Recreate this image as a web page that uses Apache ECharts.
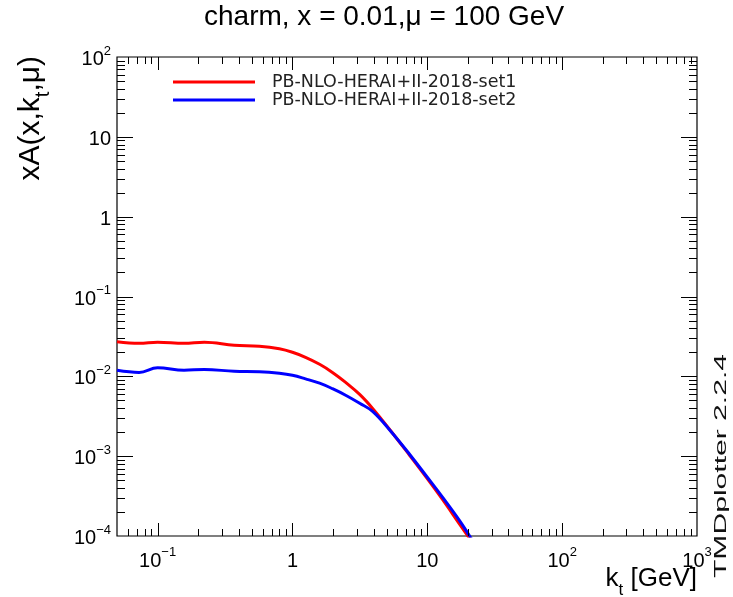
<!DOCTYPE html>
<html>
<head>
<meta charset="utf-8">
<script src="https://cdn.jsdelivr.net/npm/echarts@6/dist/echarts.min.js"></script>
<style>
  html, body { margin: 0; padding: 0; background: #ffffff; }
  #chart { width: 733px; height: 597px; }
</style>
</head>
<body>
<div id="chart"></div>
<script>
// Transverse momentum grid (GeV)
const kt = [0.05, 0.073, 0.1, 0.157, 0.222, 0.37, 0.568, 0.8, 1.0, 1.25, 1.59, 1.98, 2.48, 3.15, 3.93, 5.26, 7.41, 9.9, 13.0, 17.4, 20.7, 24];

// Charm TMD xA(x, kt, mu) at x = 0.01, mu = 100 GeV
const set1 = [0.0271, 0.0259, 0.0267, 0.0259, 0.0267, 0.0245, 0.0238, 0.0221, 0.0200, 0.0173, 0.01415, 0.0112, 0.0084, 0.00594, 0.00397, 0.00216, 0.00102, 0.000535, 0.000285, 0.000140, 0.000092, 0.000065];
const set2 = [0.0119, 0.0112, 0.0128, 0.0119, 0.0122, 0.01156, 0.0114, 0.0109, 0.0103, 0.0093, 0.0082, 0.0070, 0.0058, 0.0046, 0.00364, 0.00213, 0.00105, 0.000556, 0.000305, 0.000155, 0.0000985, 0.000067];

const seriesNames = ['PB-NLO-HERAI+II-2018-set1', 'PB-NLO-HERAI+II-2018-set2'];
const seriesColors = ['#ff0000', '#0000ff'];

// Axis ranges and decade labels ("^" marks an exponent)
const xRange = [0.05, 1000];
const yRange = [1e-4, 100];
const xTickValues = [0.1, 1, 10, 100, 1000];
const xTickLabels = ['10^\u22121', '1', '10', '10^2', '10^3'];
const yTickValues = [1e-4, 1e-3, 1e-2, 1e-1, 1, 10, 100];
const yTickLabels = ['10^\u22124', '10^\u22123', '10^\u22122', '10^\u22121', '1', '10', '10^2'];

const FONT = '"Liberation Sans", Arial, Helvetica, sans-serif';
const WIDE_FONT = '"DejaVu Sans", "Liberation Sans", sans-serif';

function richLabel(s) {
  const parts = s.split('^');
  return parts.length > 1 ? '{base|' + parts[0] + '}{sup|' + parts[1] + '}' : '{base|' + s + '}';
}
function labelFor(values, labels) {
  return function (v) {
    for (let i = 0; i < values.length; i++) {
      if (Math.abs(Math.log10(v) - Math.log10(values[i])) < 1e-6) return richLabel(labels[i]);
    }
    return '';
  };
}
const labelRich = {
  base: { fontSize: 20, fontFamily: FONT, color: '#000', verticalAlign: 'bottom', padding: [5, 0, 0, 0] },
  sup: { fontSize: 13, fontFamily: FONT, color: '#000', verticalAlign: 'top' }
};

// Major (1x) and minor (2x..9x) log tick positions inside a range
function logTicks(range) {
  const out = [];
  const e0 = Math.floor(Math.log10(range[0]));
  const e1 = Math.ceil(Math.log10(range[1]));
  for (let e = e0; e <= e1; e++) {
    for (let m = 1; m <= 9; m++) {
      const v = m * Math.pow(10, e);
      if (v > range[0] * 1.0001 && v < range[1] * 0.9999) out.push([v, m === 1 ? 1 : 0]);
    }
  }
  return out;
}
const xTicks = logTicks(xRange);
const yTicks = logTicks(yRange);

const tickStyle = { stroke: '#000', lineWidth: 1 };

const chart = echarts.init(document.getElementById('chart'), null, { renderer: 'canvas' });

chart.setOption({
  animation: false,
  backgroundColor: '#ffffff',
  title: {
    text: 'charm, x = 0.01,\u03bc = 100 GeV',
    left: 204, top: 3, padding: 0,
    textStyle: { fontFamily: FONT, fontSize: 28, fontWeight: 'normal', color: '#000' }
  },
  legend: {
    data: seriesNames,
    orient: 'vertical',
    left: 173, top: 73, padding: 0,
    itemGap: 0,
    icon: 'rect',
    itemWidth: 82, itemHeight: 3,
    textStyle: { fontFamily: WIDE_FONT, fontSize: 17.5, color: '#222', lineHeight: 18, padding: [0, 0, 0, 12] }
  },
  grid: {
    left: 117, right: 36, top: 57, bottom: 61,
    show: true, borderColor: '#000', borderWidth: 1.2, backgroundColor: 'transparent'
  },
  xAxis: {
    type: 'log', logBase: 10, min: xRange[0], max: xRange[1],
    axisLine: { show: false }, axisTick: { show: false }, splitLine: { show: false },
    axisLabel: { margin: 10, showMinLabel: true, showMaxLabel: true, hideOverlap: false,
                 formatter: labelFor(xTickValues, xTickLabels), rich: labelRich }
  },
  yAxis: {
    type: 'log', logBase: 10, min: yRange[0], max: yRange[1],
    axisLine: { show: false }, axisTick: { show: false }, splitLine: { show: false },
    axisLabel: { margin: 6, showMinLabel: true, showMaxLabel: true, hideOverlap: false,
                 formatter: labelFor(yTickValues, yTickLabels), rich: labelRich }
  },
  graphic: [
    {
      type: 'text', x: 31, y: 56, rotation: Math.PI / 2,
      style: {
        text: '{m|xA(x,k}{s|t}{m|,\u03bc)}',
        align: 'right', verticalAlign: 'middle',
        rich: {
          m: { fontFamily: FONT, fontSize: 30, fill: '#000', verticalAlign: 'bottom' },
          s: { fontFamily: FONT, fontSize: 20, fill: '#000', verticalAlign: 'bottom', padding: [0, 0, -7, 0] }
        }
      }
    },
    {
      type: 'text', x: 697, y: 579,
      style: {
        text: '{m|k}{s|t}{m| [GeV]}',
        align: 'right', verticalAlign: 'middle',
        rich: {
          m: { fontFamily: FONT, fontSize: 26, fill: '#000', verticalAlign: 'bottom' },
          s: { fontFamily: FONT, fontSize: 17, fill: '#000', verticalAlign: 'bottom', padding: [0, 0, -7, 0] }
        }
      }
    },
    {
      type: 'text', x: 722, y: 578, rotation: Math.PI / 2, scaleX: 1.88,
      style: {
        text: 'TMDplotter 2.2.4',
        align: 'left', verticalAlign: 'middle',
        fontFamily: FONT, fontSize: 16, fill: '#111'
      }
    }
  ],
  series: [
    {
      name: seriesNames[0], type: 'line', showSymbol: false, symbol: 'none', smooth: 0.4,
      data: kt.map((k, i) => [k, set1[i]]),
      lineStyle: { color: seriesColors[0], width: 3 }, itemStyle: { color: seriesColors[0] },
      z: 3
    },
    {
      name: seriesNames[1], type: 'line', showSymbol: false, symbol: 'none', smooth: 0.4,
      data: kt.map((k, i) => [k, set2[i]]),
      lineStyle: { color: seriesColors[1], width: 3 }, itemStyle: { color: seriesColors[1] },
      z: 4
    },
    {
      // ticks on bottom and top edges
      type: 'custom', silent: true, clip: false, z: 6,
      data: xTicks.map(t => [t[0], yRange[0], t[1]]),
      encode: { x: 0, y: 1 },
      renderItem: function (params, api) {
        const cs = params.coordSys;
        const p = api.coord([api.value(0), api.value(1)]);
        const x = Math.round(p[0]) + 0.5;
        const len = api.value(2) ? 13 : 7;
        const bottom = cs.y + cs.height;
        return {
          type: 'group', children: [
            { type: 'line', shape: { x1: x, y1: bottom, x2: x, y2: bottom - len }, style: tickStyle },
            { type: 'line', shape: { x1: x, y1: cs.y, x2: x, y2: cs.y + len }, style: tickStyle }
          ]
        };
      }
    },
    {
      // ticks on left and right edges
      type: 'custom', silent: true, clip: false, z: 6,
      data: yTicks.map(t => [xRange[0], t[0], t[1]]),
      encode: { x: 0, y: 1 },
      renderItem: function (params, api) {
        const cs = params.coordSys;
        const p = api.coord([api.value(0), api.value(1)]);
        const y = Math.round(p[1]) + 0.5;
        const len = api.value(2) ? 16 : 8;
        const right = cs.x + cs.width;
        return {
          type: 'group', children: [
            { type: 'line', shape: { x1: cs.x, y1: y, x2: cs.x + len, y2: y }, style: tickStyle },
            { type: 'line', shape: { x1: right, y1: y, x2: right - len, y2: y }, style: tickStyle }
          ]
        };
      }
    }
  ]
});
</script>
</body>
</html>
